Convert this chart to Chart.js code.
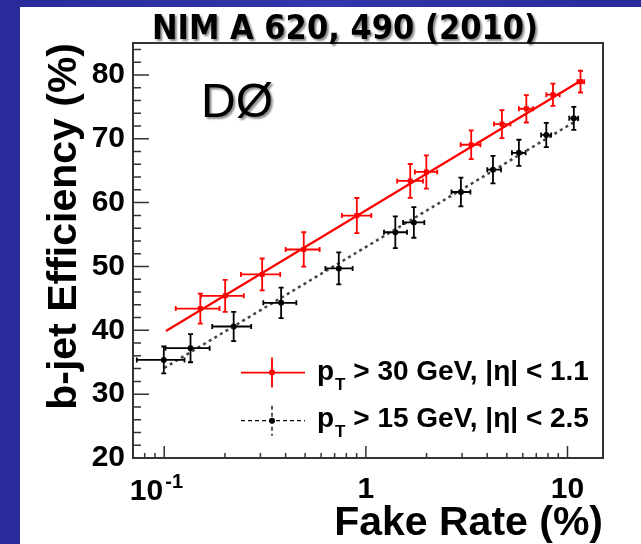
<!DOCTYPE html>
<html>
<head>
<meta charset="utf-8">
<script src="https://cdn.jsdelivr.net/npm/chart.js@4/dist/chart.umd.min.js"></script>
<style>
  html, body { margin: 0; padding: 0; width: 641px; height: 544px; overflow: hidden; }
  body { background: linear-gradient(90deg, #2a2b9a 0%, #3236aa 50%, #2a2b9a 100%); }
  #panel { position: absolute; left: 20px; top: 7px; width: 621px; height: 537px; background: #fff; }
  #wrap { position: absolute; left: 0; top: 0; width: 641px; height: 544px; }
</style>
</head>
<body>
<div id="panel"></div>
<div id="wrap"><canvas id="effChart" width="641" height="544"></canvas></div>
<script>
// pT > 30 GeV, |eta| < 1.1 (red)
const redFake = [0.151, 0.2005, 0.306, 0.492, 0.902, 1.66, 1.995, 3.33, 4.73, 6.25, 8.47, 11.6];
const redEff = [43.4, 45.4, 48.75, 52.66, 57.97, 63.4, 64.8, 69.06, 72.3, 74.7, 76.9, 78.95];
const redFakeLo = [0.114, 0.152, 0.24, 0.40, 0.76, 1.43, 1.75, 2.95, 4.32, 5.74, 7.85, 11.2];
const redFakeHi = [0.188, 0.248, 0.376, 0.59, 1.064, 1.92, 2.26, 3.70, 5.21, 6.75, 9.14, 12.1];
const redEffErr = [2.35, 2.5, 2.5, 2.7, 2.75, 2.65, 2.6, 2.25, 2.2, 2.15, 1.75, 1.7];

// pT > 15 GeV, |eta| < 2.5 (black)
const blackFake = [0.0995, 0.135, 0.221, 0.380, 0.734, 1.40, 1.73, 2.96, 4.27, 5.74, 7.85, 10.75];
const blackEff = [35.36, 37.2, 40.6, 44.3, 49.7, 55.36, 56.9, 61.66, 65.16, 67.8, 70.6, 73.2];
const blackFakeLo = [0.0731, 0.1014, 0.173, 0.310, 0.63, 1.23, 1.53, 2.66, 4.0, 5.3, 7.4, 10.2];
const blackFakeHi = [0.126, 0.168, 0.270, 0.452, 0.86, 1.60, 1.95, 3.30, 4.68, 6.2, 8.3, 11.3];
const blackEffErr = [2.1, 2.2, 2.3, 2.4, 2.5, 2.5, 2.4, 2.25, 2.15, 2.05, 1.9, 1.8];

// fitted lines (end points)
const redFitFake = [0.102, 11.8];
const redFitEff = [39.9, 79.2];
const blackFitFake = [0.1, 11.3];
const blackFitEff = [34.1, 73.0];

// axes
const xTicks = [0.1, 1, 10];
const xTickLabels = ['', '1', '10'];   // 10^-1 is drawn by hand (superscript)
const xMinorTicks = [0.08, 0.09, 0.2, 0.3, 0.4, 0.5, 0.6, 0.7, 0.8, 0.9, 2, 3, 4, 5, 6, 7, 8, 9];
const yTicks = [20, 30, 40, 50, 60, 70, 80];
const yMinorTicks = [22, 24, 26, 28, 32, 34, 36, 38, 42, 44, 46, 48, 52, 54, 56, 58, 62, 64, 66, 68, 72, 74, 76, 78, 82, 84];

const FONT = '"Liberation Sans", Arial, Helvetica, sans-serif';

const toPoints = (xs, ys) => xs.map((x, i) => ({ x: x, y: ys[i] }));

const errorBars = [
  { x: redFake, y: redEff, lo: redFakeLo, hi: redFakeHi, err: redEffErr, color: '#ff0000' },
  { x: blackFake, y: blackEff, lo: blackFakeLo, hi: blackFakeHi, err: blackEffErr, color: '#000000' }
];

const rootStyle = {
  id: 'rootStyle',
  afterDatasetsDraw(chart) {
    const { ctx, chartArea: a } = chart;
    const xs = chart.scales.x, ys = chart.scales.y;
    ctx.save();
    // error bars
    errorBars.forEach(s => {
      ctx.strokeStyle = s.color;
      ctx.lineWidth = 1.8;
      s.x.forEach((xv, i) => {
        const px = xs.getPixelForValue(xv), py = ys.getPixelForValue(s.y[i]);
        const x0 = xs.getPixelForValue(s.lo[i]), x1 = xs.getPixelForValue(s.hi[i]);
        const y0 = ys.getPixelForValue(s.y[i] + s.err[i]), y1 = ys.getPixelForValue(s.y[i] - s.err[i]);
        const c = 2.5;
        ctx.beginPath();
        ctx.moveTo(x0, py); ctx.lineTo(x1, py);
        ctx.moveTo(x0, py - c); ctx.lineTo(x0, py + c);
        ctx.moveTo(x1, py - c); ctx.lineTo(x1, py + c);
        ctx.moveTo(px, y0); ctx.lineTo(px, y1);
        ctx.moveTo(px - c, y0); ctx.lineTo(px + c, y0);
        ctx.moveTo(px - c, y1); ctx.lineTo(px + c, y1);
        ctx.stroke();
      });
    });
    // frame
    ctx.strokeStyle = '#333';
    ctx.lineWidth = 2;
    ctx.strokeRect(a.left, a.top, a.right - a.left, a.bottom - a.top);
    // inward ticks
    ctx.lineWidth = 1.5;
    ctx.beginPath();
    yTicks.forEach(v => { const p = ys.getPixelForValue(v); ctx.moveTo(a.left, p); ctx.lineTo(a.left + 16, p); });
    yMinorTicks.forEach(v => { const p = ys.getPixelForValue(v); ctx.moveTo(a.left, p); ctx.lineTo(a.left + 8, p); });
    xTicks.forEach(v => { const p = xs.getPixelForValue(v); ctx.moveTo(p, a.bottom); ctx.lineTo(p, a.bottom - 12); });
    xMinorTicks.forEach(v => { const p = xs.getPixelForValue(v); ctx.moveTo(p, a.bottom); ctx.lineTo(p, a.bottom - 5); });
    ctx.stroke();
    ctx.restore();
  },
  afterDraw(chart) {
    const { ctx, chartArea: a } = chart;
    const xs = chart.scales.x;
    ctx.save();
    // 10^-1 tick label
    const p01 = xs.getPixelForValue(xTicks[0]);
    ctx.fillStyle = '#000';
    ctx.textBaseline = 'alphabetic';
    ctx.font = 'bold 30px ' + FONT;
    ctx.textAlign = 'right';
    ctx.fillText('10', p01 - 1, 500);
    ctx.font = 'bold 20px ' + FONT;
    ctx.textAlign = 'left';
    ctx.fillText('-1', p01 + 1, 488);

    // legend
    const lx0 = a.left + 108, lx1 = a.left + 172, lmx = a.left + 139;
    const ly1 = 372.6, ly2 = 420.7;
    ctx.strokeStyle = '#ff0000';
    ctx.lineWidth = 1.8;
    ctx.beginPath();
    ctx.moveTo(lx0, ly1); ctx.lineTo(lx1, ly1);
    ctx.moveTo(lmx, ly1 - 15); ctx.lineTo(lmx, ly1 + 15);
    ctx.stroke();
    ctx.fillStyle = '#ff0000';
    ctx.beginPath(); ctx.arc(lmx, ly1, 3, 0, Math.PI * 2); ctx.fill();
    ctx.strokeStyle = '#000';
    ctx.lineWidth = 1.3;
    ctx.setLineDash([4, 3]);
    ctx.beginPath();
    ctx.moveTo(lx0, ly2); ctx.lineTo(lx1, ly2);
    ctx.moveTo(lmx, ly2 - 15); ctx.lineTo(lmx, ly2 + 15);
    ctx.stroke();
    ctx.setLineDash([]);
    ctx.fillStyle = '#000';
    ctx.beginPath(); ctx.arc(lmx, ly2, 3, 0, Math.PI * 2); ctx.fill();

    const legendText = (y, rest) => {
      let x = a.left + 184;
      ctx.fillStyle = '#000';
      ctx.textBaseline = 'alphabetic';
      ctx.textAlign = 'left';
      ctx.font = 'bold 28px ' + FONT;
      ctx.fillText('p', x, y);
      x += ctx.measureText('p').width + 1;
      ctx.font = 'bold 17px ' + FONT;
      ctx.fillText('T', x, y + 10);
      x += ctx.measureText('T').width;
      ctx.font = 'bold 28px ' + FONT;
      ctx.fillText(rest, x, y);
    };
    legendText(380, ' > 30 GeV, |\u03B7| < 1.1');
    legendText(427, ' > 15 GeV, |\u03B7| < 2.5');

    // labels with shadow
    ctx.shadowColor = 'rgba(0,0,0,0.45)';
    ctx.shadowOffsetX = 2;
    ctx.shadowOffsetY = 2;
    ctx.shadowBlur = 2;
    ctx.fillStyle = '#000';
    ctx.font = '48px ' + FONT;
    ctx.textAlign = 'left';
    ctx.fillText('D\u00D8', 201, 117);
    ctx.font = 'bold 34px "DejaVu Sans Condensed", "Liberation Sans Narrow", ' + FONT;
    ctx.textAlign = 'center';
    ctx.fillText('NIM A 620, 490 (2010)', 345, 39);
    ctx.restore();
  }
};

const ctxEff = document.getElementById('effChart').getContext('2d');
new Chart(ctxEff, {
  type: 'scatter',
  data: {
    datasets: [
      {
        label: 'red fit',
        data: toPoints(redFitFake, redFitEff),
        showLine: true,
        borderColor: '#ff0000',
        borderWidth: 2.2,
        pointRadius: 0
      },
      {
        label: 'black fit',
        data: toPoints(blackFitFake, blackFitEff),
        showLine: true,
        borderColor: '#444',
        borderWidth: 2.5,
        borderDash: [3, 3.5],
        pointRadius: 0
      },
      {
        label: 'pT > 30 GeV, |eta| < 1.1',
        data: toPoints(redFake, redEff),
        pointStyle: 'rect',
        pointRadius: 3.5,
        backgroundColor: '#ff0000',
        borderColor: '#ff0000',
        borderWidth: 0
      },
      {
        label: 'pT > 15 GeV, |eta| < 2.5',
        data: toPoints(blackFake, blackEff),
        pointStyle: 'circle',
        pointRadius: 3,
        backgroundColor: '#000',
        borderColor: '#000',
        borderWidth: 0
      }
    ]
  },
  options: {
    responsive: false,
    animation: false,
    layout: { padding: { left: 20, top: 43, right: 38, bottom: 0 } },
    plugins: { legend: { display: false }, tooltip: { enabled: false } },
    scales: {
      x: {
        type: 'logarithmic',
        min: 0.07,
        max: 15,
        grid: { display: false, drawTicks: false },
        border: { display: false },
        afterBuildTicks: s => { s.ticks = xTicks.map(v => ({ value: v })); },
        afterFit: s => { s.height = 86; },
        ticks: {
          autoSkip: false,
          maxRotation: 0,
          padding: 14,
          color: '#000',
          font: { family: FONT, size: 30, weight: 'bold', lineHeight: 1.2 },
          callback: (v, i) => xTickLabels[i]
        },
        title: {
          display: true,
          text: 'Fake Rate (%)',
          align: 'end',
          color: '#000',
          padding: { top: 0, bottom: 0 },
          font: { family: FONT, size: 41, weight: 'bold', lineHeight: 1 }
        }
      },
      y: {
        min: 20,
        max: 85,
        grid: { display: false, drawTicks: false },
        border: { display: false },
        afterBuildTicks: s => { s.ticks = yTicks.map(v => ({ value: v })); },
        afterFit: s => { s.width = 113; },
        ticks: {
          padding: 8,
          color: '#000',
          font: { family: FONT, size: 30, weight: 'bold' },
          callback: v => String(v)
        },
        title: {
          display: true,
          text: 'b-jet Efficiency (%)',
          align: 'end',
          color: '#000',
          padding: { top: 20, bottom: 0 },
          font: { family: FONT, size: 41, weight: 'bold', lineHeight: 1.2 }
        }
      }
    }
  },
  plugins: [rootStyle]
});
</script>
</body>
</html>
